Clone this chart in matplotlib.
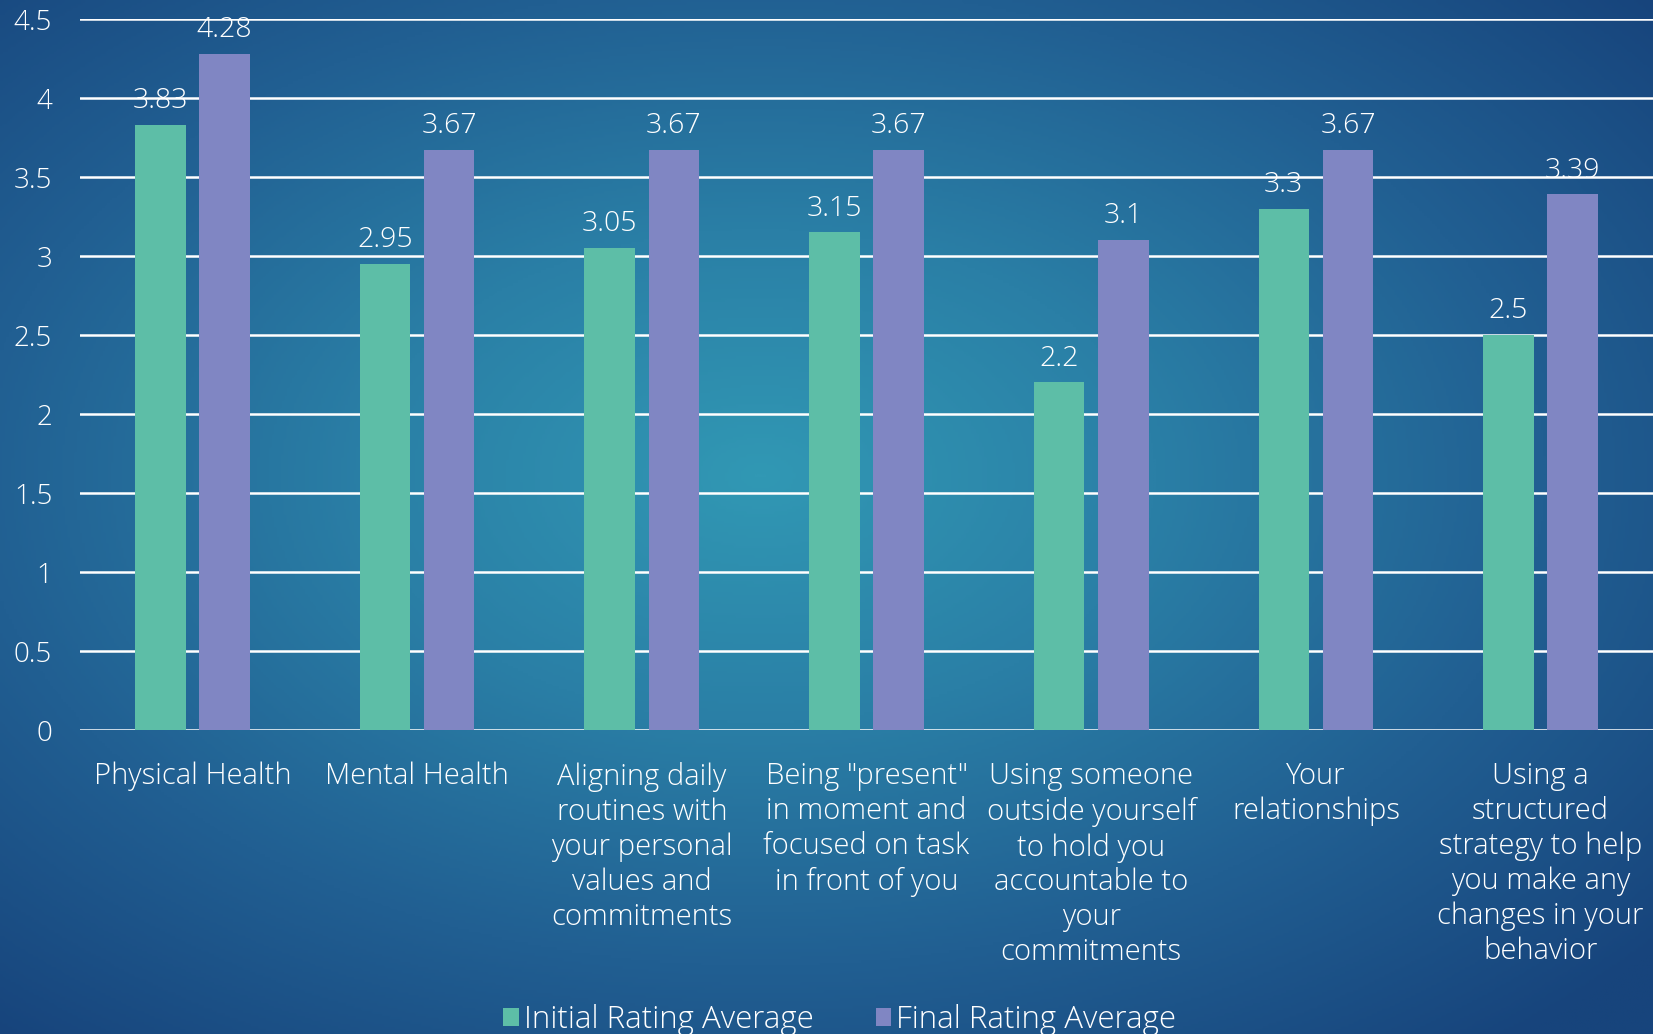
import numpy as np
import matplotlib
matplotlib.use("Agg")
import matplotlib.pyplot as plt
from matplotlib.colors import LinearSegmentedColormap

plt.rcParams['font.family'] = ['Open Sans', 'DejaVu Sans']
plt.rcParams['font.weight'] = 'light'

# Survey data
categories = [
    'Physical Health',
    'Mental Health',
    'Aligning daily\nroutines with\nyour personal\nvalues and\ncommitments',
    'Being "present"\nin moment and\nfocused on task\nin front of you',
    'Using someone\noutside yourself\nto hold you\naccountable to\nyour\ncommitments',
    'Your\nrelationships',
    'Using a\nstructured\nstrategy to help\nyou make any\nchanges in your\nbehavior',
]
initial_avg = [3.83, 2.95, 3.05, 3.15, 2.2, 3.3, 2.5]
final_avg = [4.28, 3.67, 3.67, 3.67, 3.1, 3.67, 3.39]
series_names = ['Initial Rating Average', 'Final Rating Average']

green = '#5dbea7'
purple = '#8086c3'

fig = plt.figure(figsize=(16.53, 10.34), dpi=100)

# radial blue background
bg = fig.add_axes([0, 0, 1, 1], zorder=-10)
yy, xx = np.mgrid[0:1:400j, 0:1:640j]
r = np.sqrt(((xx - 0.46) / 0.75) ** 2 + ((yy - 0.46) / 0.75) ** 2)
r = np.clip(r / 0.95, 0, 1)
cmap = LinearSegmentedColormap.from_list('bgblue', ['#3198b4', '#2a7fa6', '#215f92', '#17447c'])
bg.imshow(r, cmap=cmap, aspect='auto', extent=[0, 1, 0, 1], origin='upper')
bg.axis('off')

ax = fig.add_axes([0.0484, 0.294, 0.9516, 0.6876])
ax.patch.set_alpha(0)

x = np.arange(len(categories))
w = 0.225
off = 0.143
b1 = ax.bar(x - off, initial_avg, w, color=green, label=series_names[0], zorder=3)
b2 = ax.bar(x + off, final_avg, w, color=purple, label=series_names[1], zorder=3)

for bars, vals in ((b1, initial_avg), (b2, final_avg)):
    for rect, v in zip(bars, vals):
        ax.annotate(f'{v:g}', (rect.get_x() + rect.get_width() / 2, v),
                    xytext=(0, 7), textcoords='offset points', ha='center', va='bottom',
                    color='white', fontsize=20.5, zorder=4)

ax.set_xlim(-0.5, len(categories) - 0.5)
ax.set_ylim(0, 4.5)
ax.set_yticks(np.arange(0, 4.51, 0.5))
ax.set_yticklabels([f'{t:g}' for t in np.arange(0, 4.51, 0.5)])
ax.yaxis.grid(True, color='white', linewidth=1.8, zorder=1)
ax.set_axisbelow(True)
for s in ax.spines.values():
    s.set_visible(False)
ax.tick_params(axis='both', length=0, colors='white', labelsize=20)
ax.tick_params(axis='y', pad=20)
ax.set_xticks(x)
ax.set_xticklabels(categories, linespacing=1.24, va='top', fontsize=21)
ax.tick_params(axis='x', pad=23)

leg = fig.legend(handles=[b1, b2], loc='lower center', bbox_to_anchor=(0.508, -0.029), ncol=2,
                 frameon=False, fontsize=22.5, handlelength=0.5, handleheight=0.5,
                 handletextpad=0.15, columnspacing=2.0, labelcolor='white')

fig.savefig('out.png', dpi=100)
